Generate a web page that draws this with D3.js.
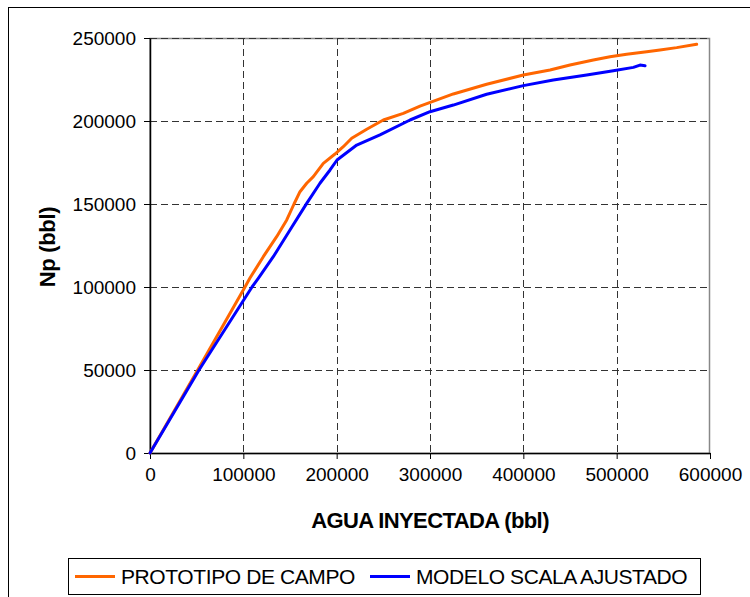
<!DOCTYPE html>
<html>
<head>
<meta charset="utf-8">
<script src="https://cdn.jsdelivr.net/npm/d3@7"></script>
<style>
  html, body { margin: 0; padding: 0; background: #fff; }
  svg { display: block; font-family: "Liberation Sans", Arial, sans-serif; }
</style>
</head>
<body>
<svg id="chart" width="750" height="597"></svg>
<script>
// Injected water (bbl) vs. cumulative oil Np (bbl)
const campoAgua = [0, 51100, 101800, 107100, 121400, 135700, 146500, 154300, 160700, 167900, 175000,
  185700, 198200, 207100, 216100, 232200, 250000, 271400, 289300, 325000, 360700, 400000, 428600,
  450000, 475000, 492900, 510700, 532200, 546400, 564300, 585700];
const campoNp = [0, 50000, 100000, 105400, 118250, 130300, 140400, 150000, 157400, 162500, 166500,
  174500, 180100, 184500, 189600, 195000, 200600, 204600, 209000, 216300, 222100, 227700, 230700,
  233700, 236700, 238700, 240200, 241700, 242800, 244200, 246200];

const modeloAgua = [0, 52500, 109300, 116000, 132100, 150000, 167900, 182100, 192900, 200400, 221500,
  246400, 278600, 300000, 325000, 360700, 400000, 432100, 467900, 496400, 517900, 525000, 530400];
const modeloNp = [0, 50000, 100000, 105200, 118250, 134300, 150400, 162500, 170500, 176500, 185500,
  191600, 200600, 205600, 209600, 216100, 221300, 224700, 227700, 230300, 232300, 233700, 233300];

const xTicks = [0, 100000, 200000, 300000, 400000, 500000, 600000];
const yTicks = [0, 50000, 100000, 150000, 200000, 250000];

const seriesNames = ["PROTOTIPO DE CAMPO", "MODELO SCALA AJUSTADO"];
const seriesColors = ["#FF6600", "#0000FF"];

const svg = d3.select("#chart");

// outer chart frame
svg.append("rect")
  .attr("x", 8.5).attr("y", 7.5)
  .attr("width", 760).attr("height", 600)
  .attr("fill", "none").attr("stroke", "#000").attr("stroke-width", 1);

const plotL = 150, plotR = 710, plotT = 38, plotB = 453;
const x = d3.scaleLinear().domain([0, 600000]).range([plotL, plotR]);
const y = d3.scaleLinear().domain([0, 250000]).range([plotB, plotT]);

// plot area border (top/right in grey)
svg.append("rect")
  .attr("x", plotL).attr("y", plotT + 0.5)
  .attr("width", plotR - plotL - 0.5).attr("height", plotB - plotT)
  .attr("fill", "none").attr("stroke", "#888").attr("stroke-width", 1.5);

// dashed grid
const grid = svg.append("g").attr("stroke", "#333").attr("stroke-width", 1)
  .attr("stroke-dasharray", "7,4");
grid.selectAll("line.h").data(yTicks.filter(d => d > 0)).join("line")
  .attr("class", "h")
  .attr("x1", plotL).attr("x2", plotR)
  .attr("y1", d => Math.round(y(d)) + 0.5).attr("y2", d => Math.round(y(d)) + 0.5);
grid.selectAll("line.v").data(xTicks.filter(d => d > 0 && d < 600000)).join("line")
  .attr("class", "v")
  .attr("y1", plotT).attr("y2", plotB)
  .attr("x1", d => Math.round(x(d)) + 0.5).attr("x2", d => Math.round(x(d)) + 0.5);

// axes
const xAxis = d3.axisBottom(x).tickValues(xTicks).tickFormat(d3.format("d"))
  .tickSizeInner(6).tickSizeOuter(0).tickPadding(9);
const yAxis = d3.axisLeft(y).tickValues(yTicks).tickFormat(d3.format("d"))
  .tickSizeInner(6).tickSizeOuter(0).tickPadding(8);

const gx = svg.append("g").attr("transform", `translate(0,${plotB})`).call(xAxis);
const gy = svg.append("g").attr("transform", `translate(${plotL},0)`).call(yAxis);
[gx, gy].forEach(g => {
  g.selectAll("path").attr("stroke", "#000").attr("stroke-width", 1.5);
  g.selectAll("line").attr("stroke", "#000");
  g.selectAll("text").attr("font-size", 19).attr("fill", "#000")
    .attr("font-family", "Liberation Sans, Arial, sans-serif");
});

// series lines
const line = d3.line().x(d => x(d[0])).y(d => y(d[1]));
const series = [
  d3.zip(campoAgua, campoNp),
  d3.zip(modeloAgua, modeloNp)
];
series.forEach((pts, i) => {
  svg.append("path").datum(pts)
    .attr("d", line)
    .attr("fill", "none")
    .attr("stroke", seriesColors[i])
    .attr("stroke-width", 3)
    .attr("stroke-linejoin", "round")
    .attr("stroke-linecap", "round");
});

// axis titles
svg.append("text")
  .attr("x", (plotL + plotR) / 2).attr("y", 528)
  .attr("text-anchor", "middle")
  .attr("font-size", 22).attr("font-weight", "bold")
  .attr("letter-spacing", -0.6)
  .text("AGUA INYECTADA (bbl)");

svg.append("text")
  .attr("transform", "translate(55,247) rotate(-90)")
  .attr("text-anchor", "middle")
  .attr("font-size", 22).attr("font-weight", "bold")
  .attr("letter-spacing", -0.3)
  .text("Np (bbl)");

// legend
const lg = svg.append("g");
lg.append("rect")
  .attr("x", 68.5).attr("y", 558.5).attr("width", 632).attr("height", 36)
  .attr("fill", "#fff").attr("stroke", "#000").attr("stroke-width", 1);
const legendX = [75, 370];
seriesNames.forEach((name, i) => {
  lg.append("line")
    .attr("x1", legendX[i]).attr("x2", legendX[i] + 40)
    .attr("y1", 576.5).attr("y2", 576.5)
    .attr("stroke", seriesColors[i]).attr("stroke-width", 3);
  lg.append("text")
    .attr("x", legendX[i] + 46).attr("y", 584)
    .attr("font-size", 21)
    .attr("letter-spacing", -0.4)
    .text(name);
});
</script>
</body>
</html>
